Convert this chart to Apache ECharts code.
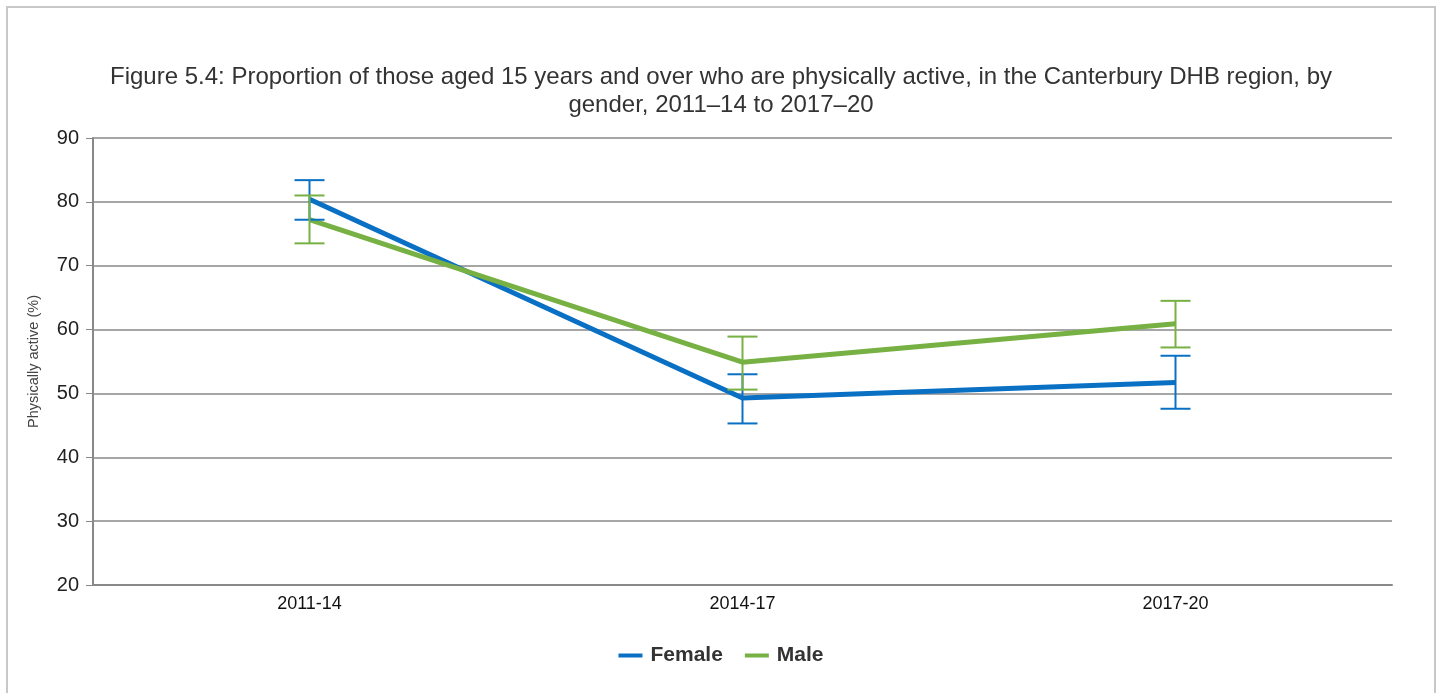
<!DOCTYPE html>
<html>
<head>
<meta charset="utf-8">
<script src="https://cdn.jsdelivr.net/npm/echarts@6/dist/echarts.min.js"></script>
<style>
html,body{margin:0;padding:0;background:#fff;}
#frame{position:absolute;left:6px;top:6px;width:1426px;height:720px;border:2px solid #c8c8c8;border-bottom:none;}
#chart{position:absolute;left:0;top:0;width:1442px;height:693px;}
</style>
</head>
<body>
<div id="frame"></div>
<div id="chart"></div>
<script>
var categories = ['2011-14', '2014-17', '2017-20'];
var femaleValues = [80.4, 49.3, 51.7];
var femaleLower = [77.2, 45.3, 47.6];
var femaleUpper = [83.4, 53.0, 55.9];
var maleValues = [77.2, 54.9, 60.9];
var maleLower = [73.5, 50.6, 57.2];
var maleUpper = [81.0, 58.9, 64.5];

var femaleColor = '#0a70c4';
var maleColor = '#77b043';

function errorData(lower, upper) {
  return categories.map(function (c, i) { return [i, lower[i], upper[i]]; });
}
function errorRender(color) {
  return function (params, api) {
    var x = api.value(0);
    var lo = api.coord([x, api.value(1)]);
    var hi = api.coord([x, api.value(2)]);
    var half = 15;
    var style = { stroke: color, lineWidth: 2 };
    return {
      type: 'group',
      children: [
        { type: 'line', shape: { x1: hi[0], y1: hi[1], x2: lo[0], y2: lo[1] }, style: style },
        { type: 'line', shape: { x1: hi[0] - half, y1: hi[1], x2: hi[0] + half, y2: hi[1] }, style: style },
        { type: 'line', shape: { x1: lo[0] - half, y1: lo[1], x2: lo[0] + half, y2: lo[1] }, style: style }
      ]
    };
  };
}

var chart = echarts.init(document.getElementById('chart'));
chart.setOption({
  animation: false,
  title: {
    text: 'Figure 5.4: Proportion of those aged 15 years and over who are physically active, in the Canterbury DHB region, by\ngender, 2011\u201314 to 2017\u201320',
    left: 'center',
    top: 58,
    textStyle: { fontFamily: 'Liberation Sans, Arial', fontSize: 24, fontWeight: 'normal', color: '#333', lineHeight: 28, align: 'center' }
  },
  legend: {
    top: 640,
    left: 'center',
    itemWidth: 24,
    itemHeight: 4,
    itemGap: 22,
    data: [
      { name: 'Female', icon: 'rect' },
      { name: 'Male', icon: 'rect' }
    ],
    textStyle: { fontFamily: 'Liberation Sans, Arial', fontSize: 21, fontWeight: 'bold', color: '#333', padding: [0, 0, 0, 3] }
  },
  grid: { left: 93, right: 50, top: 138, bottom: 108 },
  xAxis: {
    type: 'category',
    data: categories,
    boundaryGap: true,
    axisLine: { lineStyle: { color: '#888', width: 2 } },
    axisTick: { alignWithLabel: true, length: 6, lineStyle: { color: '#888', width: 1 } },
    axisLabel: { fontFamily: 'Liberation Sans, Arial', fontSize: 18, color: '#111', margin: 10 }
  },
  yAxis: {
    type: 'value',
    min: 20,
    max: 90,
    interval: 10,
    name: 'Physically active (%)',
    nameLocation: 'middle',
    nameGap: 52,
    nameTextStyle: { fontFamily: 'Liberation Sans, Arial', fontSize: 14.5, color: '#444' },
    axisLine: { show: true, lineStyle: { color: '#888', width: 2 } },
    axisTick: { show: true, length: 7, lineStyle: { color: '#888', width: 1 } },
    axisLabel: { fontFamily: 'Liberation Sans, Arial', fontSize: 20, color: '#222', margin: 14 },
    splitLine: { lineStyle: { color: '#888', width: 1.5 } }
  },
  series: [
    {
      name: 'Female', type: 'line', data: femaleValues, symbol: 'none',
      lineStyle: { width: 5, color: femaleColor }, itemStyle: { color: femaleColor }, z: 3
    },
    {
      name: 'Male', type: 'line', data: maleValues, symbol: 'none',
      lineStyle: { width: 5, color: maleColor }, itemStyle: { color: maleColor }, z: 3
    },
    {
      name: 'FemaleErr', type: 'custom', data: errorData(femaleLower, femaleUpper),
      renderItem: errorRender(femaleColor), encode: { x: 0, y: [1, 2] }, z: 4, silent: true
    },
    {
      name: 'MaleErr', type: 'custom', data: errorData(maleLower, maleUpper),
      renderItem: errorRender(maleColor), encode: { x: 0, y: [1, 2] }, z: 4, silent: true
    }
  ]
});
</script>
</body>
</html>
